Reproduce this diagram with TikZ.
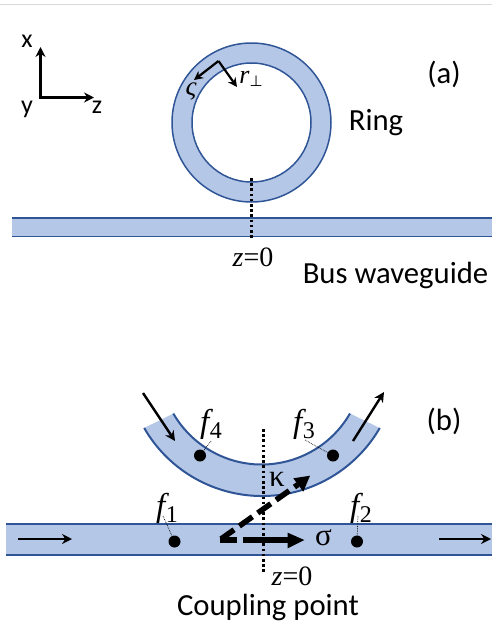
\documentclass[tikz,border=0pt]{standalone}
\usepackage{fontspec}
\setmainfont{Carlito}
\newfontfamily\mathish[Ligatures=TeX]{Liberation Serif}
\newfontfamily\symfont{DejaVu Sans}
\usetikzlibrary{arrows.meta}
\definecolor{wgfill}{HTML}{B4C7E7}
\definecolor{wgline}{HTML}{2F5597}
\newcommand{\fsub}[1]{\fontsize{33}{36}\selectfont\mathish\itshape f\hspace{0.5pt}\raisebox{-6pt}{\upshape\fontsize{24}{24}\selectfont #1}}
\tikzset{
 wgband/.style={fill=wgfill,draw=none},
 wgedge/.style={draw=wgline,line width=1.5pt},
 wgedgeb/.style={draw=wgline,line width=2pt},
 lab/.style={inner sep=0pt,font=\fontsize{30.7}{34}\selectfont},
 axlab/.style={inner sep=0pt,font=\fontsize{26}{30}\selectfont},
 mlab/.style={inner sep=0pt},
 zlab/.style={inner sep=0pt,font=\fontsize{28}{32}\selectfont},
 dotn/.style={circle,fill=black,minimum size=12pt,inner sep=0pt},
 leader/.style={black,line width=0.7pt,densely dotted},
 zline/.style={black,line width=2.4pt,dash pattern=on 2.6pt off 2.6pt},
 arr/.style={black,line width=2.4pt,-{Stealth[length=10pt,width=10pt]}},
 axisarr/.style={black,line width=2.6pt,-{Stealth[length=10pt,width=10pt]}},
 ringarr/.style={black,line width=2.2pt,-{Stealth[length=9pt,width=9pt]}},
}
\begin{document}
\begin{tikzpicture}[x=1pt,y=-1pt]
\useasboundingbox (0,0) rectangle (492,627);
\draw[gray!30,line width=1pt] (0,4.5) -- (492,4.5);
% panel a
\fill[wgfill,even odd rule] (251.5,122.5) circle[radius=79.5] (251.5,122.5) circle[radius=59.5];
\draw[wgedge] (251.5,122.5) circle[radius=79.5];
\draw[wgedge] (251.5,122.5) circle[radius=59.5];
\fill[wgband] (12,218) rectangle (492,236.5);
\draw[wgedge] (12,218) -- (492,218);
\draw[wgedge] (12,236.5) -- (492,236.5);
\coordinate (zat) at (251.5,178);
\node[zlab] (za) at (253,257) {\mathish\itshape z\upshape =0};
\draw[zline] (zat) -- (251.5,240);
\coordinate (orig) at (40.5,97.5);
\node[axlab] (xl) at (27,41) {x};
\node[axlab] (yl) at (27,109) {y};
\node[axlab] (zl) at (97,107) {z};
\coordinate (xt) at (40.5,47);
\coordinate (zt) at (94,97.5);
\draw[axisarr] (orig) -- (xt);
\draw[axisarr,shorten <=-1.3pt] (orig) -- (zt);
\coordinate (ro) at (218.5,61);
\coordinate (rs) at (194,80);
\coordinate (rr) at (237,87);
\draw[ringarr] (ro) -- (rs);
\draw[ringarr] (ro) -- (rr);
\node[inner sep=0pt,font=\fontsize{27}{30}\selectfont\mathish\itshape] (vs) at (191,91) {ς};
\node[inner sep=0pt,font=\fontsize{26}{30}\selectfont\mathish\itshape] (rp) at (251,79) {r\raisebox{-3pt}{\fontsize{15}{15}\selectfont\symfont ⊥}};
\node[lab] (ring) at (376,123) {Ring};
\node[lab] (pa) at (444,74) {(a)};
\node[lab] (bus) at (395.5,275) {Bus waveguide};
% panel b
\fill[wgband] (144.2,428) arc[start angle=150,end angle=30,radius=136] -- (350,413.5) arc[start angle=30,end angle=150,radius=102] -- cycle;
\draw[wgedgeb] (144.2,428) arc[start angle=150,end angle=30,radius=136];
\draw[wgedgeb] (350,413.5) arc[start angle=30,end angle=150,radius=102];
\fill[wgband] (6,524) rectangle (492,555);
\draw[wgedgeb] (6,524) -- (492,524);
\draw[wgedgeb] (6,555) -- (492,555);
\draw[zline] (263.5,429) -- (263.5,573);
\node[dotn] (d4) at (200,455.5) {};
\node[dotn] (d3) at (333,455.5) {};
\node[dotn] (d1) at (174.5,541.5) {};
\node[dotn] (d2) at (357,541.5) {};
\node[mlab] (f4) at (211,424) {\fsub{4}};
\node[mlab] (f3) at (304,424) {\fsub{3}};
\node[mlab] (f1) at (167,508) {\fsub{1}};
\node[mlab] (f2) at (361,508) {\fsub{2}};
\draw[leader] (211,441) -- (d4);
\draw[leader] (305,440) -- (d3);
\draw[leader] (163,516) -- (d1);
\draw[leader] (358,516) -- (d2);
\coordinate (a1s) at (143,393); \coordinate (a1e) at (175,441);
\coordinate (a2s) at (353,441); \coordinate (a2e) at (384,392);
\coordinate (a3s) at (18,539); \coordinate (a3e) at (72,539);
\coordinate (a4s) at (439,539); \coordinate (a4e) at (491,539);
\draw[arr] (a1s) -- (a1e);
\draw[arr] (a2s) -- (a2e);
\draw[arr] (a3s) -- (a3e);
\draw[arr] (a4s) -- (a4e);
\coordinate (c0) at (221,539);
\coordinate (k1) at (298,484.5);
\coordinate (s0) at (220,540);
\coordinate (s1) at (288,540);
\draw[black,line width=5.5pt,dash pattern=on 16pt off 6.5pt] (c0) -- (k1);
\fill[black] (310,475.7) -- (293.3,478.3) -- (303.3,491.7) -- cycle;
\draw[black,line width=5.5pt,dash pattern=on 17pt off 6pt on 45pt off 0pt] (s0) -- (s1);
\fill[black] (304.3,540) -- (287.7,532.7) -- (287.7,548.3) -- cycle;
\node[inner sep=0pt,font=\fontsize{31}{34}\selectfont\mathish] (ka) at (277,479) {κ};
\node[inner sep=0pt,font=\fontsize{31}{34}\selectfont\mathish] (si) at (323.5,538) {σ};
\node[zlab] (zb) at (292,576) {\mathish\itshape z\upshape =0};
\node[lab] (cp) at (268,607) {Coupling point};
\node[lab] (pb) at (444,421) {(b)};
\end{tikzpicture}
\end{document}
